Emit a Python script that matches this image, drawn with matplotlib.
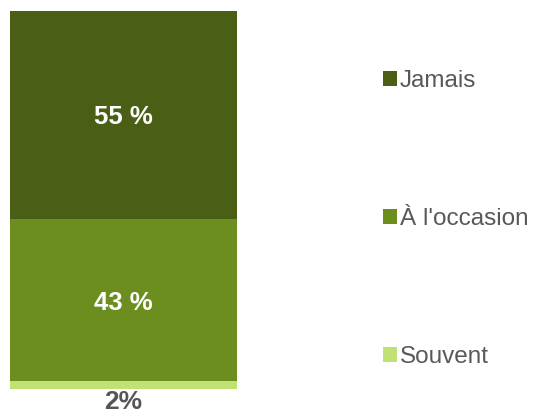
import matplotlib.pyplot as plt
from matplotlib.patches import Patch

plt.rcParams['font.family'] = ['Liberation Sans', 'DejaVu Sans']

# données
categories = ['Souvent', "À l'occasion", 'Jamais']
values = [2, 43, 55]
labels = ['2%', '43 %', '55 %']
colors = ['#c0e275', '#6b8e1f', '#4a5e15']

W, H = 534, 411
fig = plt.figure(figsize=(W / 100, H / 100), dpi=100)
ax = fig.add_axes([10 / W, 1 - 389 / H, 227 / W, 378 / H])

bottom = 0
for cat, v, lab, c in zip(categories, values, labels, colors):
    ax.bar(0, v, width=1, bottom=bottom, color=c, label=cat)
    if v > 5:
        ax.text(0, bottom + v / 2, lab, ha='center', va='center_baseline',
                color='white', fontsize=18.5, fontweight='bold')
    else:
        # petite valeur : étiquette sous la barre
        ax.text(0, bottom - 5.4, lab, ha='center', va='baseline',
                color='#555555', fontsize=19, fontweight='bold', clip_on=False)
    bottom += v

ax.set_xlim(-0.5, 0.5)
ax.set_ylim(0, 100)
ax.axis('off')

# légende (ordre inversé : Jamais en haut)
handles = [Patch(facecolor=c) for c in colors[::-1]]
leg = fig.legend(handles, categories[::-1], loc='upper left',
                 bbox_to_anchor=(383 / W, 1 - 70 / H), frameon=False,
                 fontsize=17.5, labelcolor='#595959', handlelength=0.58,
                 handleheight=0.58, handletextpad=0.12, labelspacing=4.77,
                 borderaxespad=0, borderpad=0)

fig.savefig('out.png', dpi=100)
